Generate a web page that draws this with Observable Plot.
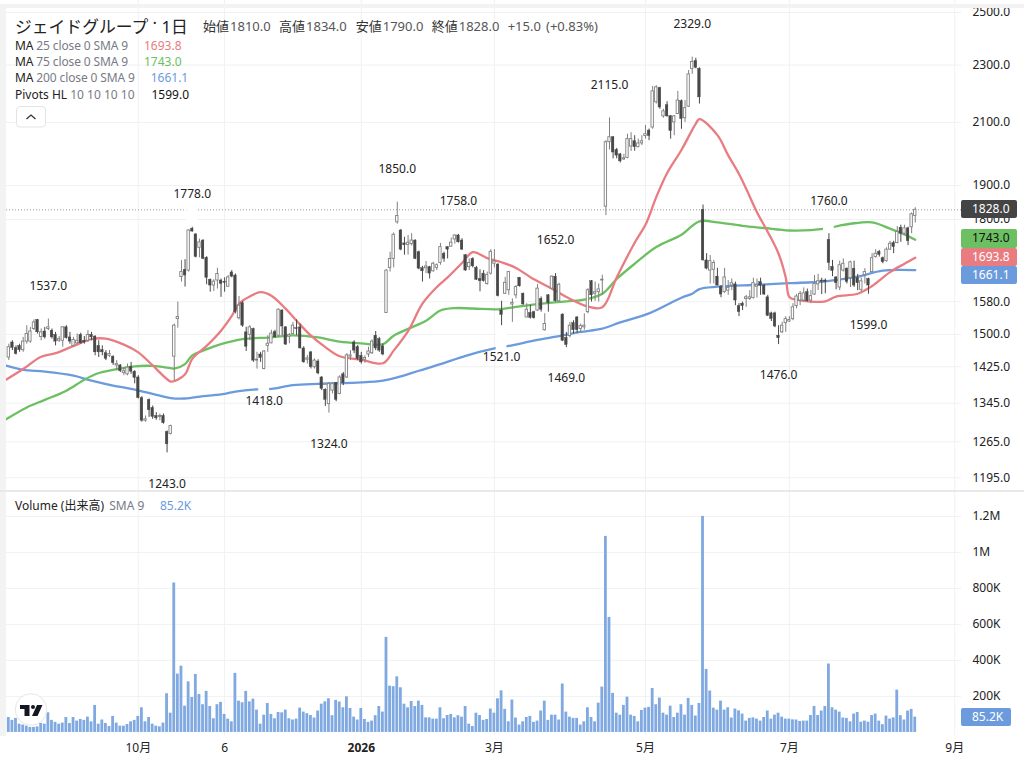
<!DOCTYPE html>
<html><head><meta charset="utf-8">
<script src="https://cdn.jsdelivr.net/npm/d3@7"></script>
<script src="https://cdn.jsdelivr.net/npm/@observablehq/plot@0.6"></script>
<style>
html,body{margin:0;padding:0;background:#fff;width:1024px;height:770px;overflow:hidden;font-family:"Noto Sans","Noto Sans CJK JP",sans-serif;color:#222}
#stage{position:relative;width:1024px;height:770px;overflow:hidden}
#stage>*{position:absolute}
.t{position:absolute;white-space:nowrap;font-size:12px;line-height:16px}
.g{color:#787b86}
.badge{position:absolute;left:961px;width:56px;height:18.4px;line-height:18.4px;border-radius:2px;font-size:12px;box-sizing:border-box;padding-left:11px;color:#fff}
</style></head><body><div id="stage"></div>
<script>
const opens=[1446,1481,1468,1473,1463,1483,1483,1513,1535,1494,1507,1513,1509,1499,1485,1485,1517,1493,1473,1479,
1499,1485,1485,1499,1495,1473,1463,1456,1450,1448,1428,1428,1411,1408,1425,1414,1401,1356,1308,1352,
1335,1318,1316,1318,1285,1281,1448,1537,1643,1662,1660,1774,1758,1721,1741,1694,1636,1621,1634,1634,
1631,1618,1655,1647,1539,1576,1505,1499,1513,1439,1453,1420,1473,1479,1506,1497,1558,1517,1495,1501,
1515,1517,1467,1441,1458,1424,1437,1401,1374,1343,1372,1389,1365,1408,1401,1448,1481,1470,1450,1441,
1453,1456,1497,1489,1472,1552,1667,1691,1792,1769,1733,1729,1731,1741,1709,1666,1666,1669,1658,1667,
1680,1705,1723,1724,1744,1755,1741,1701,1669,1691,1667,1638,1652,1625,1652,1678,1676,1558,1600,1609,
1573,1596,1641,1600,1541,1552,1554,1558,1587,1510,1596,1613,1644,1581,1548,1492,1496,1527,1541,1513,
1517,1554,1632,1600,1604,1634,1837,2035,2051,2010,1996,1980,1985,2021,2038,2019,2031,2055,2073,2083,
2168,2218,2120,2158,2121,2100,2128,2172,2114,2153,2286,2315,2286,1828,1687,1660,1662,1644,1618,1604,
1608,1621,1624,1569,1575,1587,1587,1589,1618,1630,1621,1591,1551,1551,1497,1505,1527,1531,1537,1569,
1583,1583,1604,1583,1598,1624,1634,1634,1743,1670,1642,1616,1660,1665,1640,1665,1640,1610,1648,1638,
1656,1696,1710,1693,1685,1716,1734,1734,1777,1760,1775,1778,1810];
const highs=[1477,1485,1473,1477,1493,1521,1517,1535,1536,1513,1517,1537,1513,1505,1495,1519,1521,1505,1493,1501,
1503,1495,1509,1505,1497,1485,1473,1462,1462,1450,1439,1430,1423,1431,1435,1416,1405,1359,1318,1354,
1339,1325,1322,1322,1287,1299,1525,1579,1687,1689,1771,1778,1760,1745,1743,1697,1638,1636,1666,1638,
1641,1647,1660,1651,1593,1580,1517,1521,1515,1458,1458,1462,1497,1510,1510,1562,1560,1519,1502,1529,
1535,1525,1471,1451,1460,1443,1441,1403,1376,1390,1390,1390,1405,1412,1455,1462,1485,1474,1458,1450,
1470,1487,1507,1493,1477,1662,1709,1762,1850,1772,1750,1755,1760,1743,1712,1671,1684,1671,1682,1678,
1733,1709,1724,1748,1757,1758,1746,1703,1691,1694,1671,1662,1660,1656,1716,1716,1678,1581,1642,1658,
1587,1621,1642,1602,1575,1571,1556,1624,1592,1550,1598,1646,1652,1627,1550,1505,1529,1533,1543,1525,
1550,1613,1634,1630,1625,1648,2040,2115,2053,2015,1999,1996,2061,2066,2056,2045,2056,2090,2078,2223,
2226,2220,2144,2170,2123,2123,2206,2176,2174,2280,2329,2325,2290,1842,1705,1700,1687,1666,1621,1666,
1634,1638,1630,1575,1579,1596,1608,1640,1638,1640,1624,1596,1554,1554,1521,1529,1543,1543,1575,1598,
1606,1615,1612,1608,1647,1650,1640,1638,1760,1687,1644,1685,1691,1667,1685,1685,1650,1640,1665,1640,
1705,1716,1714,1696,1721,1739,1739,1780,1784,1784,1778,1819,1834];
const lows=[1439,1462,1452,1458,1458,1477,1479,1509,1501,1485,1489,1509,1489,1473,1481,1470,1489,1477,1470,1477,
1477,1477,1481,1485,1450,1446,1450,1439,1446,1428,1416,1412,1405,1405,1408,1387,1354,1305,1305,1315,
1311,1309,1308,1301,1243,1279,1394,1515,1630,1617,1656,1764,1694,1694,1689,1623,1604,1606,1612,1591,
1604,1617,1641,1550,1535,1517,1460,1485,1435,1420,1435,1418,1458,1478,1491,1493,1497,1474,1478,1499,
1497,1466,1433,1431,1420,1420,1407,1372,1338,1324,1365,1348,1363,1383,1399,1439,1455,1439,1431,1433,
1446,1453,1462,1458,1450,1551,1656,1667,1787,1713,1701,1701,1726,1689,1662,1630,1652,1638,1656,1660,
1674,1682,1691,1723,1731,1734,1714,1658,1660,1667,1634,1605,1630,1622,1648,1667,1592,1521,1598,1596,
1529,1587,1617,1571,1540,1537,1537,1556,1554,1508,1554,1611,1579,1579,1483,1469,1492,1501,1502,1503,
1510,1550,1579,1581,1579,1596,1811,2010,1982,1982,1969,1977,1982,2005,2006,2017,2024,2045,2040,2077,
2162,2144,2114,2117,2045,2056,2126,2077,2100,2150,2266,2286,2162,1685,1662,1625,1625,1620,1590,1601,
1596,1608,1570,1543,1558,1566,1583,1587,1589,1596,1596,1543,1531,1516,1476,1502,1505,1529,1533,1562,
1570,1579,1579,1575,1596,1608,1598,1600,1660,1644,1610,1608,1656,1625,1616,1616,1608,1604,1625,1599,
1654,1693,1696,1678,1682,1714,1705,1732,1736,1755,1727,1760,1790];
const closes=[1470,1468,1454,1463,1483,1501,1507,1529,1505,1505,1493,1517,1493,1483,1489,1517,1491,1483,1487,1485,
1479,1481,1499,1493,1458,1458,1458,1443,1454,1433,1431,1415,1415,1423,1414,1400,1356,1308,1311,1330,
1316,1313,1318,1303,1260,1297,1521,1542,1656,1647,1769,1766,1696,1736,1691,1641,1621,1631,1651,1625,
1628,1642,1644,1554,1570,1521,1471,1517,1439,1441,1445,1460,1478,1502,1493,1560,1519,1476,1499,1521,
1513,1467,1435,1444,1424,1439,1410,1376,1352,1387,1387,1352,1401,1389,1451,1451,1462,1443,1435,1445,
1460,1483,1467,1462,1453,1660,1691,1757,1810,1716,1728,1735,1741,1691,1665,1658,1671,1652,1678,1674,
1723,1691,1716,1735,1755,1736,1716,1660,1680,1671,1636,1632,1632,1648,1710,1684,1594,1547,1628,1656,
1577,1617,1619,1573,1560,1540,1539,1613,1560,1525,1577,1644,1581,1623,1485,1475,1521,1510,1510,1520,
1521,1609,1596,1604,1611,1636,2035,2051,2002,1992,1974,1984,2045,2045,2019,2031,2038,2061,2055,2206,
2220,2150,2137,2120,2071,2120,2174,2111,2148,2266,2311,2290,2185,1687,1665,1685,1680,1621,1598,1642,
1615,1627,1583,1554,1569,1591,1591,1627,1622,1621,1598,1545,1537,1519,1491,1521,1537,1535,1566,1593,
1600,1601,1581,1594,1625,1632,1631,1630,1680,1659,1627,1674,1678,1630,1682,1621,1627,1632,1656,1621,
1693,1705,1702,1682,1716,1732,1723,1765,1760,1775,1739,1815,1828];
const volumes=[83,67,78,46,41,35,28,28,31,50,46,109,67,56,46,52,83,50,83,63,
72,67,85,59,150,46,69,50,33,89,52,35,35,44,59,67,89,137,59,83,
46,35,31,52,215,107,830,324,368,146,281,194,322,211,154,228,144,76,154,167,
100,74,59,328,174,165,228,170,185,124,46,96,161,100,76,111,109,124,76,69,
74,135,113,104,94,80,119,157,170,187,93,178,169,137,198,133,85,69,133,72,
56,63,93,144,113,528,257,254,309,248,157,137,172,144,174,150,81,81,74,74,
137,76,94,100,81,93,85,144,46,33,107,94,67,72,130,107,187,231,128,59,
180,80,41,59,83,89,56,63,119,174,67,96,96,69,269,113,85,78,78,41,
59,137,83,59,163,252,1089,639,217,107,96,150,196,96,89,59,122,135,139,244,
154,191,107,96,146,83,107,154,96,189,150,91,161,1200,350,230,135,124,174,124,
137,80,130,120,102,63,78,81,74,63,83,119,74,96,107,85,74,74,70,69,
61,63,63,94,144,94,119,144,380,137,124,113,80,78,59,102,111,57,63,57,
94,102,63,43,91,74,81,235,93,69,119,128,85];

const ma25Idx=[-1,4,9,13,18,23,27,32,36,40,45,46,49,51,55,59,62,64,67,70,73,77,80,84,88,92,98,104,107,111,115,119,122,126,129,133,137,141,146,151,155,161,165,169,174,177,180,183,187,191,192,197,200,203,205,208,211,214,216,217,219,223,227,230,236,240,245,249,252];
const ma25Val=[1395,1420,1448,1456,1473,1489,1490,1476,1458,1428,1392,1393,1408,1443,1473,1509,1545,1575,1593,1604,1595,1562,1533,1497,1470,1449,1441,1433,1462,1508,1575,1617,1642,1680,1709,1693,1682,1667,1637,1613,1592,1568,1566,1642,1735,1785,1865,1937,2010,2096,2111,2058,1993,1935,1890,1821,1765,1705,1642,1592,1585,1580,1581,1593,1600,1620,1656,1678,1694];
const ma75Idx=[-1,5,10,16,21,25,29,35,40,45,46,49,51,54,59,65,73,79,86,92,98,104,107,112,116,120,124,129,136,141,148,155,160,165,169,174,180,187,192,197,204,210,217,227,231,234,240,245,249,252];
const ma75Val=[1310,1336,1352,1372,1396,1411,1418,1426,1427,1422,1421,1431,1451,1462,1477,1489,1493,1498,1493,1483,1479,1477,1497,1517,1533,1558,1564,1563,1561,1567,1575,1581,1585,1600,1638,1678,1723,1757,1795,1792,1782,1776,1769,1774,1783,1788,1792,1774,1758,1743];
const ma200Idx=[-1,4,10,18,23,29,34,40,45,49,54,60,63,69,73,79,86,98,104,108,114,120,127,135,139,147,154,159,165,170,178,187,190,192,197,208,217,227,236,243,252];
const ma200Val=[1428,1418,1414,1405,1394,1383,1376,1365,1356,1355,1360,1365,1370,1375,1376,1384,1387,1390,1394,1401,1416,1431,1450,1467,1473,1487,1498,1506,1514,1529,1551,1590,1600,1612,1618,1623,1627,1632,1644,1660,1661];

const pivotIdx=[11,51,108,125,152,167,190,228,44,71,89,137,155,214,239];
const pivotVal=[1537,1778,1850,1758,1652,2115,2329,1760,1243,1418,1324,1521,1469,1476,1599];
const pivotSide=[-1,-1,-1,-1,-1,-1,-1,-1,1,1,1,1,1,1,1];
const gapIdx=[51,228,71,137];
const gapFrom=[1778,1760,1418,1521];
const gapTo=[1860,1790,1370,1455];

const priceTicks=[1195,1265,1345,1425,1500,1580,1800,1900,2100,2300,2500];
const volumeTicks=[200,400,600,800,1000,1200];
const dateTickIdx=[36,60,135,177,217,263];
const dateTickText=["10月","6","3月","5月","7月","9月"];
const yearTickIdx=[98];
const yearTickText=["2026"];
const lastClose=1828;

const FONT='"Noto Sans","Noto Sans CJK JP",sans-serif';
const INK="#222";
const GRID="#f0f1f3";
const RED="#e97c80",GREEN="#6cc061",BLUE="#6b9bdc",VOL="#7fa9e0",DARK="#484848",HOLLOW="#808080";
const allTicks=[...dateTickIdx,...yearTickIdx];
const xDom=[-2.307,264.86];
const candles=opens.map((o,i)=>({i,o,h:highs[i],l:lows[i],c:closes[i],v:volumes[i],up:closes[i]>=o}));
const toLine=(idx,val)=>idx.map((i,k)=>({i,p:val[k]}));
const pivots=pivotIdx.map((i,k)=>({i,p:pivotVal[k],s:pivotSide[k]}));
const gaps=gapIdx.map((i,k)=>({i,a:gapFrom[k],b:gapTo[k]}));
const W=1024,MR=63;

const price=Plot.plot({
  width:W,height:490,marginLeft:0,marginRight:MR,marginTop:0,marginBottom:0,
  style:{fontFamily:FONT,fontSize:"12px",background:"transparent",color:INK,overflow:"visible"},
  x:{type:"linear",domain:xDom,axis:null},
  y:{type:"log",domain:[1171,2548],range:[490,0],axis:null},
  marks:[
    Plot.ruleX(allTicks,{stroke:GRID}),
    Plot.ruleY(priceTicks,{stroke:GRID}),
    Plot.ruleY([lastClose],{stroke:"#9a9a9a",strokeDasharray:"1 2"}),
    Plot.line(toLine(ma200Idx,ma200Val),{x:"i",y:"p",stroke:BLUE,strokeWidth:2.3,curve:"catmull-rom"}),
    Plot.line(toLine(ma75Idx,ma75Val),{x:"i",y:"p",stroke:GREEN,strokeWidth:2.3,curve:"catmull-rom"}),
    Plot.line(toLine(ma25Idx,ma25Val),{x:"i",y:"p",stroke:RED,strokeWidth:2.3,curve:"catmull-rom"}),
    Plot.rect(gaps,{x1:d=>d.i-1.5,x2:d=>d.i+1.5,y1:"a",y2:"b",fill:"white"}),
    Plot.ruleX(candles.filter(d=>d.up),{x:"i",y1:"l",y2:"h",stroke:HOLLOW}),
    Plot.ruleX(candles.filter(d=>!d.up),{x:"i",y1:"l",y2:"h",stroke:DARK}),
    Plot.rect(candles.filter(d=>d.up),{x1:d=>d.i-.33,x2:d=>d.i+.33,y1:"o",y2:"c",fill:"white",stroke:HOLLOW,strokeWidth:.9}),
    Plot.rect(candles.filter(d=>!d.up),{x1:d=>d.i-.36,x2:d=>d.i+.36,y1:"o",y2:"c",fill:DARK,stroke:DARK,strokeWidth:.4}),
    Plot.text(pivots.filter(d=>d.s<0),{x:"i",y:"p",text:d=>d.p.toFixed(1),dy:-33,fill:INK,fontSize:12}),
    Plot.text(pivots.filter(d=>d.s>0),{x:"i",y:"p",text:d=>d.p.toFixed(1),dy:31,fill:INK,fontSize:12}),
    Plot.axisY(priceTicks,{anchor:"right",tickSize:0,tickPadding:11,tickFormat:d=>d.toFixed(1),label:null,fontSize:12,color:INK})
  ]
});
const volume=Plot.plot({
  width:W,height:278,marginLeft:0,marginRight:MR,marginTop:0,marginBottom:33,
  style:{fontFamily:FONT,fontSize:"12px",background:"transparent",color:INK},
  x:{type:"linear",domain:xDom,axis:null},
  y:{domain:[-17,1344],axis:null},
  marks:[
    Plot.ruleX(allTicks,{stroke:GRID}),
    Plot.ruleY(volumeTicks,{stroke:GRID}),
    Plot.rect(candles,{x1:d=>d.i-.39,x2:d=>d.i+.39,y1:0,y2:"v",fill:VOL}),
    Plot.axisY(volumeTicks,{anchor:"right",tickSize:0,tickPadding:11,tickFormat:d=>d>=1000?(d/1000)+"M":d+"K",label:null,fontSize:12,color:INK}),
    Plot.axisX(dateTickIdx,{anchor:"bottom",tickSize:0,tickPadding:8,tickFormat:i=>dateTickText[dateTickIdx.indexOf(i)],label:null,fontSize:12,color:INK}),
    Plot.axisX(yearTickIdx,{anchor:"bottom",tickSize:0,tickPadding:8,tickFormat:i=>yearTickText[yearTickIdx.indexOf(i)],label:null,fontSize:12,fontWeight:700,color:INK})
  ]
});
const stage=document.getElementById("stage");
price.style.cssText+=";left:0;top:0;position:absolute";
volume.style.cssText+=";left:0;top:490px;position:absolute";
stage.append(volume,price);

function html(s){const t=document.createElement("template");t.innerHTML=s.trim();return t.content.firstChild;}
function add(s){stage.appendChild(html(s));}
function txt(x,y,inner,style=""){add(`<div class="t" style="left:${x}px;top:${y-8}px;${style}">${inner}</div>`);}

// chrome
add('<div style="left:0;top:4px;width:1024px;height:3.5px;background:#f3f3f3"></div>');
add('<div style="left:0;top:7px;width:6px;height:729px;background:#f3f3f3"></div>');
add('<div style="left:0;top:490px;width:1024px;height:2px;background:#e9e9e9"></div>');

// legend
txt(15,27,'ジェイドグループ<span style="position:relative;top:-4px"> · </span>1日','font-size:16.8px;line-height:20px;top:17px;color:#222');
const ohlc=[[203,'始値','1810.0'],[279,'高値','1834.0'],[355.7,'安値','1790.0'],[431.7,'終値','1828.0']];
ohlc.forEach(([x,a,b])=>txt(x,26,`${a}<span style="color:#555;margin-left:1px">${b}</span>`,'font-size:13px;color:#333'));
txt(507.7,26,'+15.0','font-size:13px;color:#555');
txt(546,26,'(+0.83%)','font-size:13px;color:#555');
const LS='letter-spacing:-.12px';
txt(15,46,'MA <span class="g">25 close 0 SMA 9</span>',LS);
txt(144,46,'1693.8',`color:${RED}`);
txt(15,62,'MA <span class="g">75 close 0 SMA 9</span>',LS);
txt(144,62,'1743.0',`color:${GREEN}`);
txt(15,78,'MA <span class="g">200 close 0 SMA 9</span>',LS);
txt(150.7,78,'1661.1',`color:${BLUE}`);
txt(15,95,'Pivots HL <span class="g">10 10 10 10</span>');
txt(151.5,95,'1599.0','color:#111');
add('<svg style="left:15.5px;top:105.5px" width="30" height="22"><rect x=".5" y=".5" width="29" height="20.5" rx="3.5" fill="#fff" stroke="#e3e3e3"/><path d="M10.5 13 L15 9 L19.5 13" fill="none" stroke="#333" stroke-width="1.3"/></svg>');
txt(15,506,'Volume (出来高) <span class="g" style="margin-left:2px">SMA 9</span>');
txt(160,506,'85.2K',`color:${BLUE}`);

// price badges
const badge=(top,bg,col,s,w)=>add(`<div class="badge" style="top:${top}px;background:${bg};color:${col};${w?`width:${w}px;`:""}">${s}</div>`);
badge(199.6,"#444444","#fff","1828.0");
badge(229.2,GREEN,"#111","1743.0");
badge(247.6,RED,"#fff","1693.8");
badge(266,BLUE,"#fff","1661.1");
badge(708,BLUE,"#fff","85.2K",50);

// logo
add(`<svg style="left:12px;top:693px" width="38" height="36"><circle cx="19" cy="16.5" r="15.8" fill="#fff" stroke="#e6e6e6"/>
<path d="M8 12 H17.5 V23 H12.5 V16 H8 Z" fill="#131722"/><circle cx="21" cy="14" r="2" fill="#131722"/><path d="M25 12 H30.5 L25.5 23 H20 Z" fill="#131722"/></svg>`);
</script></body></html>
